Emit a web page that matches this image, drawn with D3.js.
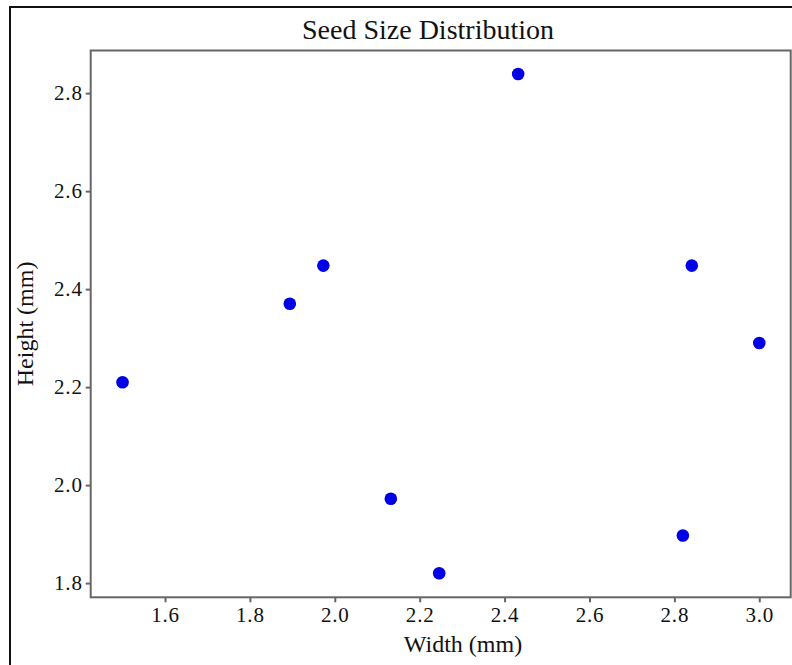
<!DOCTYPE html>
<html>
<head>
<meta charset="utf-8">
<script src="https://cdn.jsdelivr.net/npm/d3@7"></script>
<style>
  body { margin: 0; background: #fff; }
  svg { display: block; font-family: "Liberation Serif", "Times New Roman", serif; }
</style>
</head>
<body>
<svg width="792" height="665"></svg>
<script>
const widths  = [1.500, 1.894, 1.973, 2.132, 2.246, 2.432, 2.841, 3.000, 2.820];
const heights = [2.210, 2.370, 2.448, 1.972, 1.820, 2.839, 2.448, 2.290, 1.897];
const xTicks = [1.6, 1.8, 2.0, 2.2, 2.4, 2.6, 2.8, 3.0];
const yTicks = [1.8, 2.0, 2.2, 2.4, 2.6, 2.8];

const svg = d3.select('svg');
const W = 792, H = 665;
const margin = { top: 50.5, right: 1.3, bottom: 67.7, left: 90.7 };
const width = W - margin.left - margin.right;
const height = H - margin.top - margin.bottom;

// outer frame (runs off the right / bottom edge)
svg.append('rect')
    .attr('x', 10).attr('y', 7)
    .attr('width', 820).attr('height', 700)
    .attr('fill', 'none')
    .attr('stroke', '#111')
    .attr('stroke-width', 2);

const chart = svg.append('g')
    .attr('transform', `translate(${margin.left}, ${margin.top})`);

const xScale = d3.scaleLinear().domain([1.425, 3.074]).range([0, width]);
const yScale = d3.scaleLinear().domain([1.771, 2.887]).range([height, 0]);

// plot box
chart.append('rect')
    .attr('width', width).attr('height', height)
    .attr('fill', 'none')
    .attr('stroke', '#666')
    .attr('stroke-width', 2);

const xAxis = chart.append('g')
    .attr('transform', `translate(0, ${height})`)
    .call(d3.axisBottom(xScale).tickValues(xTicks).tickFormat(d3.format('.1f')).tickSize(5).tickPadding(5));

const yAxis = chart.append('g')
    .call(d3.axisLeft(yScale).tickValues(yTicks).tickFormat(d3.format('.1f')).tickSize(5).tickPadding(3));

[xAxis, yAxis].forEach(a => {
    a.attr('font-family', 'Liberation Serif, Times New Roman, serif')
     .attr('font-size', 21)
     .attr('letter-spacing', 0.8);
    a.select('.domain').remove();
    a.selectAll('.tick line').attr('stroke', '#666').attr('stroke-width', 2);
    a.selectAll('.tick text').attr('fill', '#111');
});

// points
chart.selectAll('circle')
    .data(widths.map((w, i) => ({ w: w, h: heights[i] })))
    .enter()
    .append('circle')
    .attr('cx', d => xScale(d.w))
    .attr('cy', d => yScale(d.h))
    .attr('r', 6.3)
    .attr('fill', '#0000e6');

// titles
svg.append('text')
    .attr('x', 428).attr('y', 39)
    .attr('text-anchor', 'middle')
    .style('font-size', '28px')
    .attr('fill', '#111')
    .text('Seed Size Distribution');

svg.append('text')
    .attr('x', 463).attr('y', 652)
    .attr('text-anchor', 'middle')
    .style('font-size', '24px')
    .attr('fill', '#111')
    .text('Width (mm)');

svg.append('text')
    .attr('transform', `translate(33, ${margin.top + height / 2}) rotate(-90)`)
    .attr('text-anchor', 'middle')
    .style('font-size', '24px')
    .attr('fill', '#111')
    .text('Height (mm)');
</script>
</body>
</html>
